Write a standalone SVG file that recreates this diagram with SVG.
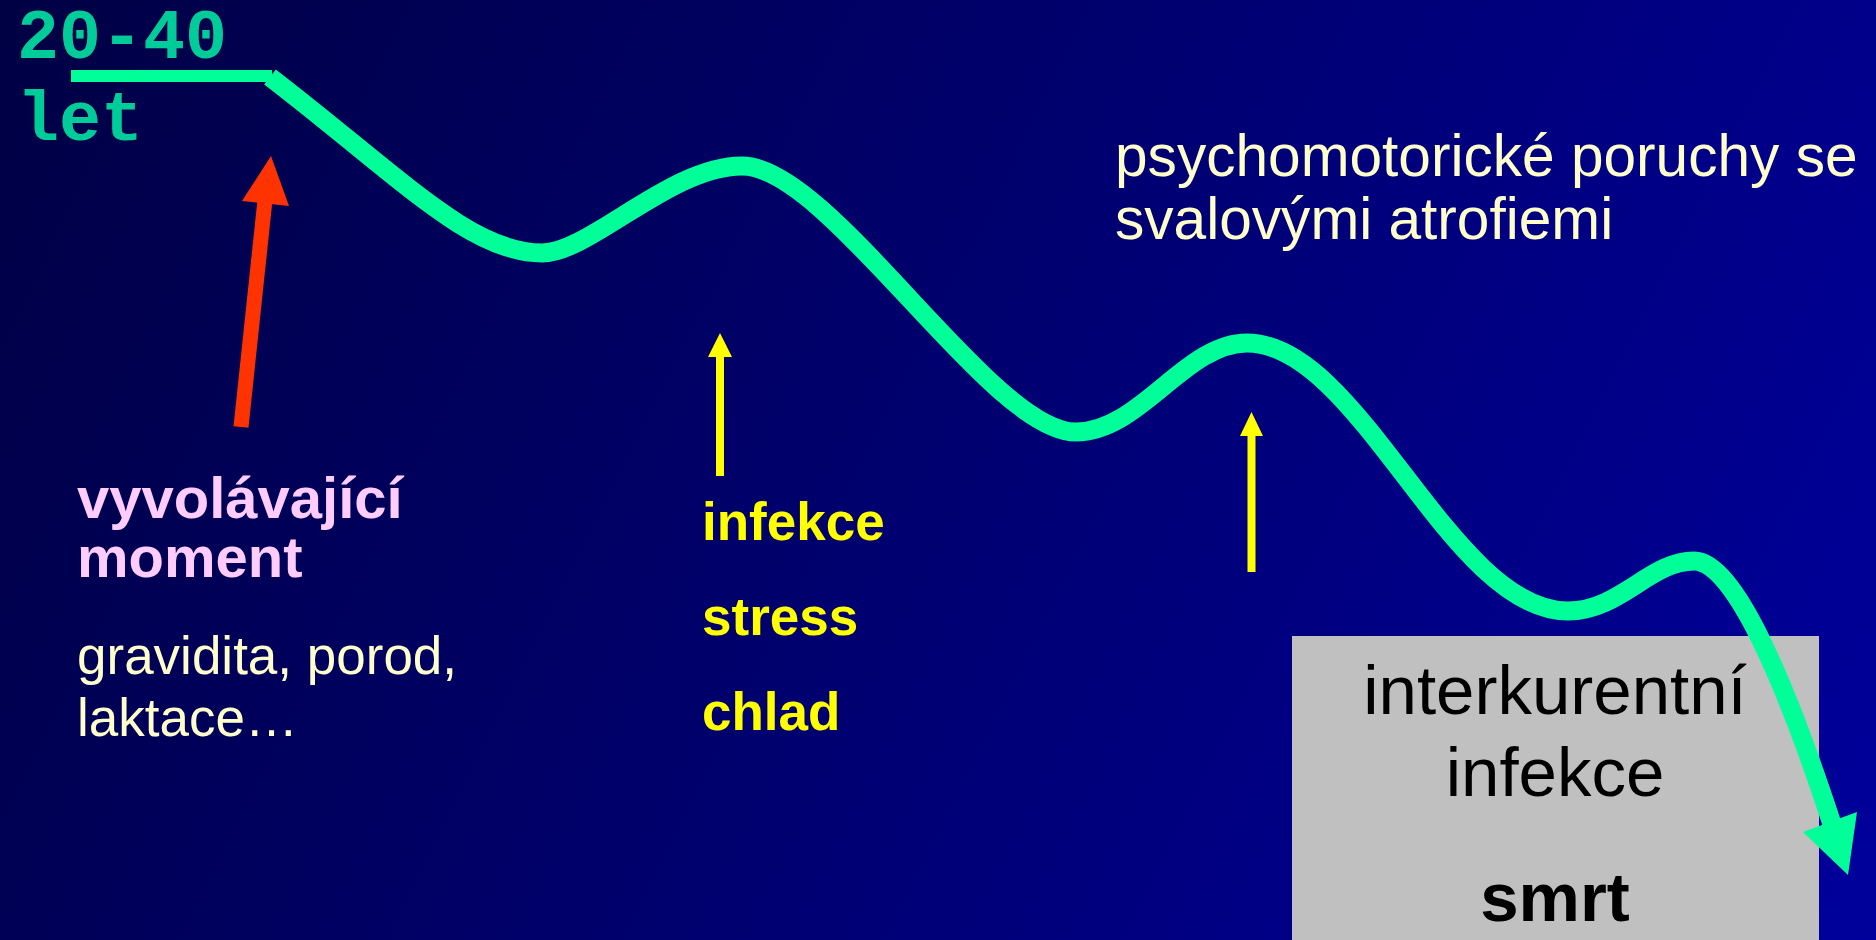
<svg xmlns="http://www.w3.org/2000/svg" width="1876" height="940" viewBox="0 0 1876 940">
  <defs>
    <linearGradient id="bg" gradientUnits="userSpaceOnUse" x1="0" y1="0" x2="1876" y2="940">
      <stop offset="0" stop-color="#000044"/>
      <stop offset="1" stop-color="#00009C"/>
    </linearGradient>
  </defs>
  <style>
    .sans { font-family: "Liberation Sans", Arial, sans-serif; }
    .mono { font-family: "Liberation Mono", "Courier New", monospace; font-weight: bold; fill: #00CC99; font-size: 70px; }
    .pink { fill: #FFCCFF; font-weight: bold; font-size: 58px; }
    .cream { fill: #FFFFCC; }
    .yellow { fill: #FFFF00; font-weight: bold; font-size: 53px; }
    .boxtxt { fill: #000000; font-size: 69px; }
    .green { fill: none; stroke: #00FF99; stroke-linecap: butt; stroke-linejoin: round; }
  </style>
  <rect x="0" y="0" width="1876" height="940" fill="url(#bg)"/>

  <g id="age-label">
    <text class="mono" x="17" y="58">20-40</text>
    <text class="mono" x="17" y="140">let</text>
  </g>

  <g id="trigger">
    <text class="sans pink" x="77" y="518">vyvolávající</text>
    <text class="sans pink" x="77" y="577">moment</text>
    <text class="sans cream" x="77" y="674" font-size="53">gravidita, porod,</text>
    <text class="sans cream" x="77" y="736" font-size="53">laktace…</text>
  </g>

  <g id="factors">
    <text class="sans yellow" x="702" y="540">infekce</text>
    <text class="sans yellow" x="702" y="635">stress</text>
    <text class="sans yellow" x="702" y="730">chlad</text>
  </g>

  <g id="symptoms">
    <text class="sans cream" x="1115" y="176" font-size="58.6">psychomotorické poruchy se</text>
    <text class="sans cream" x="1115" y="239" font-size="58.6">svalovými atrofiemi</text>
  </g>

  <g id="death-box">
    <rect x="1292" y="636" width="527" height="310" fill="#C0C0C0"/>
    <text class="sans boxtxt" x="1555" y="714" text-anchor="middle">interkurentní</text>
    <text class="sans boxtxt" x="1555" y="796" text-anchor="middle">infekce</text>
    <text class="sans boxtxt" x="1555" y="921" text-anchor="middle" font-weight="bold">smrt</text>
  </g>

  <g id="connectors">
    <line class="green" x1="71" y1="76" x2="272" y2="76" stroke-width="12"/>
    <path class="green" stroke-width="19" d="M270,77 C400,177 470,253 542,253 C590,253 670,166 742,166 C830,166 990,432 1076,432 C1140,432 1185,343 1247,343 C1360,343 1450,611 1568,611 C1620,611 1650,561 1694,561 C1735,561 1787,687 1832,824"/>
    <polygon fill="#00FF99" points="1848,875 1803,832 1857,812"/>

    <line x1="241" y1="427" x2="265" y2="200" stroke="#FF3300" stroke-width="15"/>
    <polygon fill="#FF3300" points="271,156 242,201 289,206"/>

    <rect x="716" y="355" width="8" height="121" fill="#FFFF00"/>
    <polygon fill="#FFFF00" points="720,333 708,357 732,357"/>

    <rect x="1247.5" y="434" width="8" height="138" fill="#FFFF00"/>
    <polygon fill="#FFFF00" points="1251.5,412 1240,436 1263,436"/>
  </g>
</svg>
